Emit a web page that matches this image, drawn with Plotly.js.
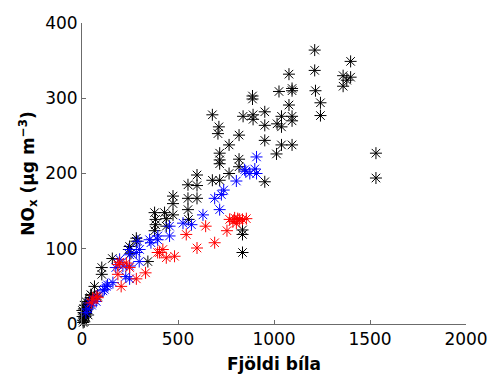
<!DOCTYPE html>
<html>
<head>
<meta charset="utf-8">
<script src="https://cdn.plot.ly/plotly-3.0.1.min.js"></script>
<style>
html,body{margin:0;padding:0;background:#fff;}
#chart{width:490px;height:376px;}
</style>
</head>
<body>
<div id="chart"></div>
<script>
// Black series
const blackX = [1212,1212,1399,1360,1399,1360,1379,1078,1094,1094,1026,1216,1242,1242,1078,1094,1094,1039,1016,1039,
  888,888,952,891,891,839,952,952,1039,1094,1013,679,713,708,818,766,717,717,717,818,818,
  599,599,599,552,552,552,555,679,717,766,952,1531,1531,474,474,474,378,383,383,430,439,378,439,
  283,283,248,244,255,158,103,103,65,343,836,836,836,46,81,
  5,10,15,8,20,25,12,30,18,3,22,35,40,28,10,15,6,45,50,32,2,20];
const blackY = [364,337,349,330,328,316,324,332,313,310,309,310,294,277,291,276,270,276,266,262,
  303,299,282,278,272,276,264,244,238,238,226,278,262,253,251,238,227,218,213,219,209,
  198,184,167,185,167,152,139,191,191,200,189,227,194,170,160,145,148,139,132,148,140,124,130,
  114,110,103,99,94,87,75,66,50,83,125,119,95,39,37,
  5,8,12,15,18,22,3,25,10,10,14,28,30,20,20,25,2,35,38,12,18,30];

// Blue series
const blueX = [909,853,900,909,874,804,738,726,691,717,630,570,526,456,456,395,352,291,300,283,
  248,248,196,213,248,248,161,126,117,109,74,74,39,176,133,228,394,359,298,847,50,60,30,20];
const blueY = [222,203,206,200,200,190,178,172,167,152,145,132,134,130,117,117,112,110,99,95,
  99,92,86,77,77,60,55,50,46,44,37,30,28,75,52,63,112,108,83,205,25,32,20,15];

// Red series
const redX = [836,769,786,804,821,856,811,795,755,644,543,691,599,421,404,439,482,248,187,196,
  231,187,204,283,331,74,56,82,48,394];
const redY = [139,139,136,134,139,140,140,141,124,130,119,108,101,99,95,88,90,75,79,82,
  81,66,50,60,68,37,33,35,28,95];

const xTicks = [0,500,1000,1500,2000];
const yTicks = [0,100,200,300,400];

function series(x, y, color){
  return {
    x: x, y: y, type: 'scatter', mode: 'markers', cliponaxis: false,
    marker: {symbol: 'asterisk-open', size: 10, color: color, line: {color: color, width: 1}},
    hoverinfo: 'skip', showlegend: false
  };
}

const axisCommon = {
  showline: true, linecolor: '#6b6b6b', linewidth: 1,
  ticks: 'inside', ticklen: 4, tickcolor: '#6b6b6b',
  showgrid: false, zeroline: false, mirror: false,
  tickfont: {family: 'DejaVu Sans', size: 17, color: '#000'}
};

const layout = {
  width: 490, height: 376,
  margin: {l: 82, r: 24, t: 23, b: 52},
  paper_bgcolor: '#fff', plot_bgcolor: '#fff',
  xaxis: Object.assign({}, axisCommon, {
    range: [0, 2000], tickvals: xTicks, ticktext: xTicks.map(String),
    title: {text: '<b>Fjöldi bíla</b>', font: {family: 'DejaVu Sans', size: 17, color: '#000'}, standoff: 9}
  }),
  yaxis: Object.assign({}, axisCommon, {
    range: [0, 400], tickvals: yTicks, ticktext: yTicks.map(String),
    title: {text: '<b>NO<sub>x</sub> (μg m<sup>−3</sup>)</b>', font: {family: 'DejaVu Sans', size: 17, color: '#000'}, standoff: 6}
  })
};

Plotly.newPlot('chart', [series(blackX, blackY, '#000000'), series(blueX, blueY, '#0000ff'), series(redX, redY, '#ff0000')], layout, {staticPlot: true, displayModeBar: false});
</script>
</body>
</html>
